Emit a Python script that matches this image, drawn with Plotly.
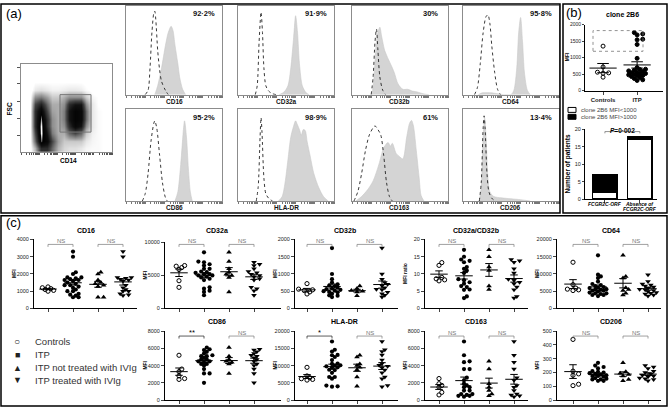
import numpy as np
import plotly.graph_objects as go

W, H = 668, 410
FONT = "Arial, Liberation Sans, sans-serif"

### Section 1: data

dot_x = [0.031, 0.094, 0.156, 0.219, 0.281, 0.344, 0.406, 0.469,
         0.531, 0.594, 0.656, 0.719, 0.781, 0.844, 0.906, 0.969]
dot_y = [0.042, 0.125, 0.208, 0.292, 0.375, 0.458, 0.542, 0.625,
         0.708, 0.792, 0.875, 0.958]
dot_z = [
    [0, 0, 2, 6, 6, 4, 2, 1.2, 1, 1, 0.8, 0.5, 0.4, 0.4, 0.3, 0],
    [0, 0, 4, 9.3, 8, 5, 2.5, 1.5, 1.5, 1.5, 1.5, 0.8, 0.5, 0.4, 0.3, 0],
    [0, 0, 5, 10, 7, 3.5, 2.2, 2.2, 4, 5, 4, 1.5, 0.6, 0.4, 0.3, 0],
    [0, 0, 6, 10, 6, 3, 2.2, 3, 6, 8, 7, 3, 0.8, 0.4, 0.3, 0],
    [0, 0, 6, 9.6, 6, 3, 2.2, 3.5, 7, 8.5, 8, 4, 0.8, 0.4, 0.3, 0],
    [0, 0, 6, 8.5, 5, 2.5, 2.2, 3.5, 7, 8.5, 8, 4, 0.8, 0.4, 0.3, 0],
    [0, 0, 5, 6.5, 4, 2.2, 2.2, 3, 6, 7, 7, 3, 0.8, 0.3, 0.2, 0],
    [0, 0, 3, 3.5, 2.5, 1.5, 1.5, 2.2, 3, 3, 3, 1.5, 0.5, 0.3, 0, 0],
    [0, 0, 0.8, 1, 0.8, 0.6, 0.6, 0.7, 0.8, 0.8, 0.7, 0.4, 0.2, 0, 0, 0],
    [0, 0, 0.3, 0.3, 0.3, 0.3, 0.3, 0.3, 0.3, 0.3, 0.3, 0.2, 0, 0, 0, 0],
    [0] * 16,
    [0] * 16,
]

# (a) histograms: (intensity, count) as fractions of each box
hist_names = ["CD16", "CD32a", "CD32b", "CD64", "CD86", "HLA-DR", "CD163", "CD206"]
hist_pct = ["92·2%", "91·9%", "30%", "95·8%", "95·2%", "98·9%", "61%", "13·4%"]

cd16_iso = [(0.20, 0), (0.23, 0.05), (0.25, 0.3), (0.27, 0.7), (0.29, 0.92), (0.30, 0.94),
            (0.31, 0.85), (0.33, 0.5), (0.35, 0.28), (0.37, 0.15), (0.41, 0.05), (0.44, 0)]
cd16_pos = [(0.30, 0), (0.33, 0.1), (0.37, 0.3), (0.41, 0.55), (0.44, 0.7), (0.47, 0.77),
            (0.49, 0.72), (0.51, 0.56), (0.54, 0.35), (0.56, 0.19), (0.59, 0.06), (0.62, 0)]
cd32a_iso = [(0.18, 0), (0.20, 0.1), (0.22, 0.6), (0.24, 0.93), (0.255, 0.7), (0.27, 0.3),
             (0.29, 0.1), (0.32, 0.04), (0.36, 0.01), (0.40, 0)]
cd32a_pos = [(0.43, 0), (0.48, 0.03), (0.52, 0.1), (0.55, 0.3), (0.58, 0.65), (0.60, 0.89),
             (0.62, 0.7), (0.64, 0.35), (0.67, 0.1), (0.71, 0.02), (0.74, 0)]
cd32b_iso = [(0.20, 0), (0.22, 0.2), (0.24, 0.6), (0.255, 0.74), (0.27, 0.5), (0.29, 0.2),
             (0.32, 0.05), (0.35, 0)]
cd32b_pos = [(0.21, 0), (0.23, 0.2), (0.25, 0.55), (0.27, 0.7), (0.29, 0.76), (0.31, 0.65),
             (0.34, 0.5), (0.37, 0.42), (0.40, 0.35), (0.44, 0.25), (0.48, 0.12), (0.53, 0.06),
             (0.58, 0.06), (0.63, 0.04), (0.68, 0.03), (0.74, 0.01), (0.80, 0)]
cd64_iso = [(0.12, 0), (0.15, 0.08), (0.18, 0.35), (0.21, 0.7), (0.24, 0.88), (0.26, 0.9),
            (0.28, 0.8), (0.30, 0.55), (0.33, 0.25), (0.36, 0.06), (0.39, 0)]
cd64_pos = [(0.16, 0), (0.20, 0.02), (0.30, 0.02), (0.36, 0.01), (0.42, 0), (0.50, 0),
            (0.53, 0.05), (0.56, 0.3), (0.58, 0.7), (0.60, 0.87), (0.62, 0.6), (0.64, 0.25),
            (0.67, 0.05), (0.70, 0)]
cd86_iso = [(0.17, 0), (0.20, 0.08), (0.23, 0.3), (0.26, 0.65), (0.29, 0.85), (0.30, 0.875),
            (0.32, 0.8), (0.35, 0.5), (0.38, 0.2), (0.41, 0.04), (0.43, 0)]
cd86_pos = [(0.51, 0), (0.54, 0.1), (0.57, 0.4), (0.60, 0.8), (0.61, 0.875), (0.63, 0.7),
            (0.65, 0.35), (0.67, 0.1), (0.69, 0)]
hladr_iso = [(0.19, 0), (0.21, 0.15), (0.23, 0.7), (0.24, 0.91), (0.25, 0.75), (0.27, 0.25),
             (0.29, 0.08), (0.32, 0.03), (0.36, 0)]
hladr_pos = [(0.42, 0), (0.46, 0.05), (0.49, 0.2), (0.52, 0.45), (0.55, 0.7), (0.58, 0.82),
             (0.60, 0.875), (0.62, 0.83), (0.64, 0.78), (0.66, 0.72), (0.68, 0.78), (0.70, 0.77),
             (0.72, 0.65), (0.75, 0.5), (0.79, 0.3), (0.84, 0.15), (0.89, 0.05), (0.94, 0)]
cd163_iso = [(0.02, 0), (0.06, 0.1), (0.10, 0.3), (0.14, 0.55), (0.18, 0.72), (0.22, 0.8),
             (0.24, 0.82), (0.27, 0.78), (0.30, 0.72), (0.33, 0.5), (0.36, 0.2), (0.39, 0.05),
             (0.42, 0)]
cd163_pos = [(0.04, 0), (0.10, 0.05), (0.16, 0.12), (0.22, 0.22), (0.28, 0.4), (0.33, 0.58),
             (0.375, 0.64), (0.40, 0.6), (0.42, 0.63), (0.46, 0.52), (0.50, 0.48), (0.53, 0.46),
             (0.57, 0.7), (0.60, 0.85), (0.62, 0.88), (0.64, 0.82), (0.67, 0.55), (0.70, 0.25),
             (0.72, 0.06), (0.75, 0)]
cd206_iso = [(0.17, 0), (0.19, 0.2), (0.21, 0.8), (0.22, 0.93), (0.23, 0.8), (0.25, 0.3),
             (0.27, 0.1), (0.30, 0.03), (0.34, 0)]
cd206_pos = [(0.17, 0), (0.19, 0.15), (0.21, 0.7), (0.225, 0.91), (0.24, 0.7), (0.26, 0.25),
             (0.28, 0.1), (0.32, 0.05), (0.40, 0.035), (0.50, 0.025), (0.60, 0.015), (0.70, 0)]

hist_iso = [cd16_iso, cd32a_iso, cd32b_iso, cd64_iso, cd86_iso, hladr_iso, cd163_iso, cd206_iso]
hist_pos = [cd16_pos, cd32a_pos, cd32b_pos, cd64_pos, cd86_pos, hladr_pos, cd163_pos, cd206_pos]

# (b) clone 2B6 MFI
b_cats = ["Controls", "ITP"]
b_controls = [1350, 720, 560, 540, 530, 410]
b_itp = [1760, 1720, 1690, 1560, 1540, 1400, 980, 700, 650, 640, 620, 600, 580,
         560, 540, 520, 510, 500, 480, 460, 450, 430, 400, 370, 330, 310]

# (b) number of patients
bar_cats = ["FCGR2C-ORF", "Absence of", "FCGR2C-ORF"]
bar_low = [2, 17]   # clone 2B6 MFI<1000
bar_high = [5, 1]   # clone 2B6 MFI>1000

# (c) MFI per group: controls, ITP not treated with IVIg, ITP treated with IVIg
cd16_ctrl = [1250, 1200, 1150, 1100, 1050, 1000]
cd16_nt = [2100, 2000, 1650, 1500, 1430, 1350, 1270, 650, 650]
cd16_tr = [3300, 3000, 1800, 1800, 1750, 1700, 1650, 1600, 1350, 1200, 1100, 1000, 1000, 850, 800, 750]

cd32a_ctrl = [6500, 6400, 6200, 5900, 4200, 3200]
cd32a_nt = [8500, 7100, 6000, 5500, 5200, 5000, 4700, 2500]
cd32a_tr = [7000, 6700, 6500, 6000, 5600, 5400, 5200, 5000, 4800, 4500, 4300, 3200, 3000, 2700, 2000]

cd32b_ctrl = [720, 560, 540, 520, 480, 420]
cd32b_nt = [650, 580, 520, 500, 480, 370]
cd32b_tr = [1750, 1000, 850, 750, 700, 660, 600, 560, 540, 470, 430, 380, 330]

ratio_ctrl = [13.3, 12.5, 9.0, 8.6, 8.3, 8.0]
ratio_nt = [17, 15, 12, 11, 6.5, 5.5]
ratio_tr = [14.2, 13.8, 13.4, 11.5, 10.3, 8.5, 8.2, 7.6, 7.2, 6.2, 5.4, 3.5, 3.0]

cd64_ctrl = [13400, 6900, 5900, 5600, 5400, 5200]
cd64_nt = [15400, 9300, 8800, 6000, 5500, 5200, 4400, 3900]
cd64_tr = [9800, 7800, 7100, 6800, 6500, 6200, 5900, 5600, 5400, 5200, 4900, 4600, 4400, 4200, 3900, 3600]

cd86_ctrl = [5200, 3600, 3300, 2800, 2500, 2400]
cd86_nt = [6100, 5100, 4700, 4500, 4400, 4200, 3100]
cd86_tr = [5900, 5800, 5600, 5400, 5200, 5100, 4900, 4700, 4500, 4200, 4000, 3600, 3100, 2000]

hladr_ctrl = [9500, 7000, 6500, 6200, 6000, 5800]
hladr_nt = [13000, 12500, 10500, 10000, 9500, 8800, 6700, 4000]
hladr_tr = [17000, 14600, 14100, 13100, 11600, 10600, 10100, 9800, 9400, 8700, 7900, 6700, 6200, 4200, 3900]

cd163_ctrl = [2500, 1900, 1700, 1500, 900, 600]
cd163_nt = [4500, 3600, 1900, 1500, 1100, 700, 500]
cd163_tr = [6800, 5200, 4400, 3600, 2600, 2300, 1700, 1500, 1100, 700, 600, 500, 400]

cd206_ctrl = [440, 210, 190, 180, 115, 105]
cd206_nt = [270, 205, 195, 185, 175, 150, 140]
cd206_tr = [250, 240, 230, 210, 200, 190, 180, 175, 170, 160, 155, 150, 140]

legend_labels = ["Controls", "ITP", "ITP not treated with IVIg", "ITP treated with IVIg"]

# name, groups, axis top, tick step, y title, bracket labels
c_panels = [
    ("CD16", cd16_ctrl, cd16_nt, cd16_tr, 4000, 1000, "MFI", ["NS", "NS"]),
    ("CD32a", cd32a_ctrl, cd32a_nt, cd32a_tr, 10000, 5000, "MFI", ["NS", "NS"]),
    ("CD32b", cd32b_ctrl, cd32b_nt, cd32b_tr, 2000, 500, "MFI", ["NS", "NS"]),
    ("CD32a/CD32b", ratio_ctrl, ratio_nt, ratio_tr, 20, 5, "MFI ratio", ["NS", "NS"]),
    ("CD64", cd64_ctrl, cd64_nt, cd64_tr, 20000, 5000, "MFI", ["NS", "NS"]),
    ("CD86", cd86_ctrl, cd86_nt, cd86_tr, 8000, 2000, "MFI", ["**", "NS"]),
    ("HLA-DR", hladr_ctrl, hladr_nt, hladr_tr, 20000, 5000, "MFI", ["*", "NS"]),
    ("CD163", cd163_ctrl, cd163_nt, cd163_tr, 8000, 2000, "MFI", ["NS", "NS"]),
    ("CD206", cd206_ctrl, cd206_nt, cd206_tr, 500, 100, "MFI", ["NS", "NS"]),
]

### Section 2: layout helpers (pixel based)
fig = go.Figure()
annotations = []
shapes = []
n_axes = 0


def add_axes(x0, x1, y0, y1, xaxis, yaxis):
    global n_axes
    n_axes += 1
    s = "" if n_axes == 1 else str(n_axes)
    fig.update_layout(**{
        "xaxis" + s: dict(domain=[x0 / W, x1 / W], anchor="y" + s, **xaxis),
        "yaxis" + s: dict(domain=[1 - y1 / H, 1 - y0 / H], anchor="x" + s, **yaxis),
    })
    return "x" + s, "y" + s


def add_text(x, y, text, size=7, color="black", xanchor="center", angle=0, xref="paper"):
    annotations.append(dict(
        x=x / W if xref == "paper" else x, y=1 - y / H, xref=xref, yref="paper",
        text=text, showarrow=False, xanchor=xanchor, yanchor="middle", textangle=angle,
        font=dict(size=size, color=color, family=FONT), borderpad=0,
    ))


def add_rect(x0, y0, x1, y1, color="black", width=1.5, dash="solid", fill=None):
    shapes.append(dict(type="rect", xref="paper", yref="paper",
                       x0=x0 / W, x1=x1 / W, y0=1 - y1 / H, y1=1 - y0 / H,
                       fillcolor=fill, line=dict(color=color, width=width, dash=dash)))


def swarm(vals, px_per_unit, cat_px, dist=3.2, step=2.8, max_k=7):
    # simple deterministic beeswarm: spread points that would overlap
    placed = []
    offs = [0.0] * len(vals)
    for i in sorted(range(len(vals)), key=lambda j: vals[j]):
        y = vals[i] * px_per_unit
        best, best_d = 0.0, -1
        for k in range(max_k):
            cand = ((k + 1) // 2) * (1 if k % 2 else -1) * step
            d = min([np.hypot(cand - px, y - py) for px, py in placed] or [99])
            if d >= dist:
                best = cand
                break
            if d > best_d:
                best, best_d = cand, d
        placed.append((best, y))
        offs[i] = best / cat_px
    return offs


def mean_sem(groups, xa, ya, half=0.35, cap=0.15):
    xs, ys = [], []
    for i, vals in enumerate(groups):
        v = np.array(vals, float)
        m = v.mean()
        e = v.std(ddof=1) / np.sqrt(len(v))
        xs += [i - half, i + half, None, i, i, None, i - cap, i + cap, None, i - cap, i + cap, None]
        ys += [m, m, None, m - e, m + e, None, m + e, m + e, None, m - e, m - e, None]
    return go.Scatter(x=xs, y=ys, mode="lines", line=dict(color="black", width=1),
                      xaxis=xa, yaxis=ya, hoverinfo="skip", showlegend=False)


flow_ticks = [d * 0.2 + np.log10(k) * 0.2 for d in range(5) for k in range(1, 10)] + [1.0]
frame = dict(showline=True, linecolor="#8c8c8c", linewidth=1, mirror=True,
             showgrid=False, zeroline=False, range=[0, 1])

### Section 3: panel (a)
add_rect(1, 1, 560, 213)
add_text(5, 11, "(a)", size=13, xanchor="left")

xa, ya = add_axes(21, 112, 62, 151,
                  dict(frame, ticks="outside", ticklen=2, tickcolor="#555", tickvals=flow_ticks,
                       showticklabels=False),
                  dict(frame, ticks="outside", ticklen=3, tickcolor="#555",
                       tickvals=[0.187, 0.382, 0.577, 0.775, 0.96], showticklabels=False))
fig.add_trace(go.Heatmap(
    x=dot_x, y=dot_y, z=dot_z, zmin=0, zmax=10, zsmooth="best", showscale=False,
    colorscale=[[0, "#ffffff"], [0.03, "#ffffff"], [0.08, "#e8e8e8"], [0.25, "#a0a0a0"],
                [0.5, "#444444"], [0.72, "#111111"], [0.9, "#000000"], [0.95, "#808080"],
                [1.0, "#ffffff"]],
    xaxis=xa, yaxis=ya, hoverinfo="skip",
))
add_rect(60, 93, 91, 131, color="#777", width=1)
add_text(9, 108, "<b>FSC</b>", size=6.5, angle=-90)
add_text(68, 160, "<b>CD14</b>", size=6.5)

hist_x0 = [126, 238, 352, 463]
hist_rows = [(3, 93, 100), (108, 201, 208)]
for k, name in enumerate(hist_names):
    x0 = hist_x0[k % 4]
    y0, y1, ylab = hist_rows[k // 4]
    xa, ya = add_axes(x0, x0 + 96, y0, y1,
                      dict(frame, ticks="outside", ticklen=2, tickcolor="#777",
                           tickvals=flow_ticks, showticklabels=False),
                      dict(frame, showticklabels=False))
    px, py = zip(*hist_pos[k])
    fig.add_trace(go.Scatter(x=px, y=py, mode="lines", fill="tozeroy", fillcolor="#d4d4d4",
                             line=dict(color="#cacaca", width=0.6, shape="spline", smoothing=0.8),
                             xaxis=xa, yaxis=ya, showlegend=False, hoverinfo="skip"))
    ix, iy = zip(*hist_iso[k])
    fig.add_trace(go.Scatter(x=ix, y=iy, mode="lines",
                             line=dict(color="#222", width=0.9, dash="dot", shape="spline", smoothing=0.8),
                             xaxis=xa, yaxis=ya, showlegend=False, hoverinfo="skip"))
    add_text(x0 + 48, ylab, "<b>" + name + "</b>", size=6.5, color="#111")
    add_text(x0 + 78, y0 + 8, "<b>" + hist_pct[k] + "</b>", size=7.5, color="#111")

### Section 4: panel (b)
add_rect(563, 1, 667, 213)
add_text(565, 10, "(b)", size=13, xanchor="left")
add_text(622, 12, "<b>clone 2B6</b>", size=7)

small_axis = dict(showline=True, linecolor="black", linewidth=1, ticks="outside", ticklen=3,
                  tickfont=dict(size=5.5, color="#222", family=FONT), showgrid=False, zeroline=False)

xa, ya = add_axes(585, 663, 22, 89,
                  dict(small_axis, range=[-0.53, 1.76], tickvals=[0, 1],
                       ticktext=["<b>" + c + "</b>" for c in b_cats],
                       tickfont=dict(size=6, color="#222", family=FONT)),
                  dict(small_axis, range=[0, 2000], tickvals=[0, 500, 1000, 1500, 2000], tickformat="d",
                       ticklen=2, tickfont=dict(size=5, color="#222", family=FONT)))
for i, (vals, sym) in enumerate([(b_controls, "circle-open"), (b_itp, "circle")]):
    offs = swarm(vals, 67 / 2000, 34)
    fig.add_trace(go.Scatter(x=[i + o for o in offs], y=vals, mode="markers",
                             marker=dict(symbol=sym, size=4, color="black", line=dict(width=1, color="black")),
                             xaxis=xa, yaxis=ya, showlegend=False, cliponaxis=False))
fig.add_trace(mean_sem([b_controls, b_itp], xa, ya, half=0.4, cap=0.17))
add_rect(593, 28, 643, 49, color="#777", width=0.8, dash="dot")
add_text(567, 55, "<b>MFI</b>", size=5, angle=-90)

# legend of the bar chart
add_rect(568, 106, 576, 111, width=1)
add_rect(568, 113, 576, 118, width=1, fill="black")
add_text(580, 108.5, "clone 2B6 MFI&lt;1000", size=6, color="#444", xanchor="left")
add_text(580, 115.5, "clone 2B6 MFI&gt;1000", size=6, color="#444", xanchor="left")

xa, ya = add_axes(585, 657, 128, 199,
                  dict(small_axis, range=[-0.57, 1.49], tickvals=[0, 1], showticklabels=False),
                  dict(small_axis, range=[0, 20], tickvals=[0, 5, 10, 15, 20], ticklen=2))
fig.add_trace(go.Bar(x=[0, 1], y=bar_low, width=0.69, marker=dict(color="white", line=dict(color="black", width=1.2)),
                     xaxis=xa, yaxis=ya, showlegend=False))
fig.add_trace(go.Bar(x=[0, 1], y=bar_high, width=0.69, marker=dict(color="black", line=dict(color="black", width=1.2)),
                     xaxis=xa, yaxis=ya, showlegend=False))
for sx0, sx1, sy0, sy1 in [(0, 1, 19.3, 19.3), (0, 0, 19.3, 18.8), (1, 1, 19.3, 18.8)]:
    shapes.append(dict(type="line", xref=xa, yref=ya, x0=sx0, x1=sx1, y0=sy0, y1=sy1,
                       line=dict(color="#777", width=0.8)))
add_text(0.5, 129, "<b><i>P</i>=0·002</b>", size=6.5, xref=xa)
add_text(0, 204, "<b><i>" + bar_cats[0] + "</i></b>", size=5, xref=xa)
add_text(1, 204, "<b><i>" + bar_cats[1] + "</i></b>", size=5, xref=xa)
add_text(1, 209.5, "<b><i>" + bar_cats[2] + "</i></b>", size=5, xref=xa)
add_text(568, 163, "<b>Number of patients</b>", size=6.5, angle=-90)

### Section 5: panel (c)
add_rect(1, 216, 667, 409)
add_text(5, 223, "(c)", size=13, xanchor="left")

c_cols = [(34, 137, 48), (165, 281, 179), (295, 398, 307), (425, 528, 439), (557, 661, 573)]
c_grid = [(0, 240, 310), (1, 243, 310), (2, 240, 310), (3, 240, 310), (4, 240, 310),
          (1, 333, 403), (2, 333, 403), (3, 333, 403), (4, 333, 403)]
c_markers = [("circle-open", 4.2), ("circle", 4.2), ("triangle-up", 5), ("triangle-down", 5)]
CAT = 25

for k, (name, ctrl, nt, tr, top, step, ytitle, marks) in enumerate(c_panels):
    col, y_top, y_bot = c_grid[k]
    left, right, cat0 = c_cols[col]
    xa, ya = add_axes(left, right, y_top, y_bot,
                      dict(small_axis, range=[-(cat0 - left) / CAT, (right - cat0) / CAT],
                           tickvals=[0, 1, 2, 3], showticklabels=False),
                      dict(small_axis, range=[0, top], tickvals=list(range(0, top + 1, step)),
                           tickformat="d"))
    groups = [ctrl, nt + tr, nt, tr]
    px_per = (y_bot - y_top) / top
    for i, vals in enumerate(groups):
        sym, size = c_markers[i]
        offs = swarm(vals, px_per, CAT)
        fig.add_trace(go.Scatter(x=[i + o for o in offs], y=vals, mode="markers",
                                 marker=dict(symbol=sym, size=size, color="black",
                                             line=dict(width=1 if i == 0 else 0, color="black")),
                                 xaxis=xa, yaxis=ya, showlegend=False, cliponaxis=False))
    fig.add_trace(mean_sem(groups, xa, ya))

    first_row = y_bot == 310
    add_text(cat0 + 1.5 * CAT, 231 if first_row else 323, "<b>" + name + "</b>", size=7)
    add_text(left - 20, (y_top + y_bot) / 2, "<b>" + ytitle + "</b>", size=5, angle=-90)

    # significance brackets
    yb = 245 if first_row else 338
    for j, label in enumerate(marks):
        a, b = 2 * j, 2 * j + 1
        col_b = "#888" if label == "NS" else "#333"
        for sx0, sx1, sy0, sy1 in [(a, b, yb, yb), (a, a, yb, yb + 2.5), (b, b, yb, yb + 2.5)]:
            shapes.append(dict(type="line", xref=xa, yref="paper", x0=sx0, x1=sx1,
                               y0=1 - sy0 / H, y1=1 - sy1 / H, line=dict(color=col_b, width=0.8)))
        add_text(a + 0.5, yb - 3.5, label, size=6 if label == "NS" else 7.5,
                 color="#777" if label == "NS" else "black", xref=xa)

# legend of panel (c)
for i, (sym, label) in enumerate(zip(["○", "■", "▲", "▼"], legend_labels)):
    add_text(17, 344 + 13 * i, sym, size=9 if i else 10, color="#222")
    add_text(34, 344 + 13 * i, label, size=9.5, color="#333", xanchor="left")

fig.update_layout(
    width=W, height=H, autosize=False,
    margin=dict(l=0, r=0, t=0, b=0),
    paper_bgcolor="white", plot_bgcolor="white",
    font=dict(family=FONT, color="black"),
    barmode="stack", showlegend=False,
    annotations=annotations, shapes=shapes,
)

# the page body has a default 8px margin; drop it so the figure fills the window
fig.write_html("out.html", config={"displayModeBar": False},
               post_script="document.body.style.margin='0';")
